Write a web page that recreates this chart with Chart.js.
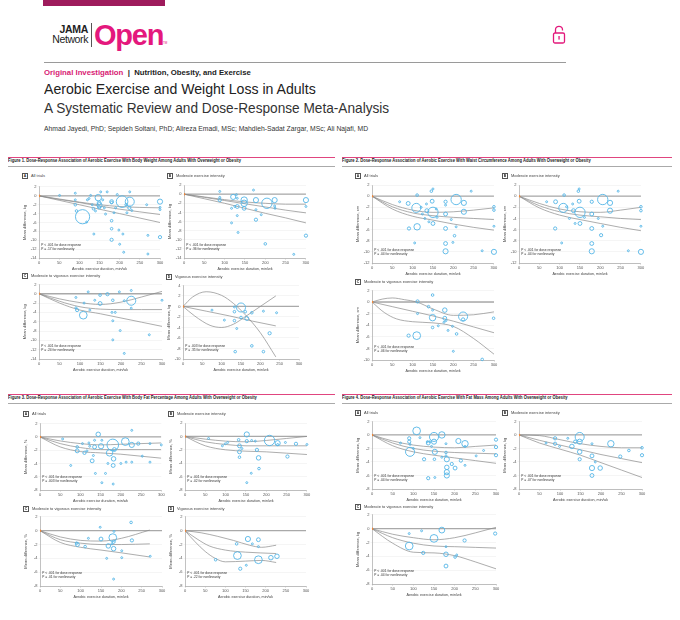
<!DOCTYPE html>
<html>
<head>
<meta charset="utf-8">
<script src="https://cdn.jsdelivr.net/npm/chart.js@4.4.1/dist/chart.umd.min.js"></script>
<style>
html,body{margin:0;padding:0;background:#fff}
#page{position:relative;width:680px;height:620px;overflow:hidden;font-family:"Liberation Sans Narrow","Liberation Sans",Arial,sans-serif;color:#222}
.abs{position:absolute;white-space:nowrap;line-height:1;transform-origin:0 0}
canvas{position:absolute}
.lbl{position:absolute;white-space:nowrap;line-height:1;font-size:4px;color:#444}
.lbl b{display:inline-block;width:4px;height:4px;border:0.5px solid #555;font-size:3.4px;text-align:center;line-height:4px;margin-right:3px;vertical-align:middle;color:#222}
.pv{position:absolute;white-space:nowrap;font-size:3.8px;line-height:3.6px;color:#333;transform:scaleX(0.88);transform-origin:0 0}
</style>
</head>
<body>
<div id="page">
  <div class="abs" style="left:43px;top:0;width:122px;height:6px;background:#9e1b5c"></div>
  <div class="abs" style="left:38px;top:23px;width:50px;text-align:right;font:bold 10.5px 'Liberation Sans',Arial,sans-serif;letter-spacing:-0.3px">JAMA</div>
  <div class="abs" style="left:38px;top:33px;width:50px;text-align:right;font:10.5px 'Liberation Sans',Arial,sans-serif;letter-spacing:-0.4px">Network</div>
  <div class="abs" style="left:91px;top:23px;width:0.8px;height:24px;background:#555"></div>
  <div class="abs" style="left:94px;top:19px;font:bold 29px 'Liberation Sans',Arial,sans-serif;letter-spacing:-1.2px;color:#e4187d">Open</div>
  <div class="abs" style="left:163px;top:41px;font:3px Arial;color:#e4187d">TM</div>
  <svg class="abs" style="left:552px;top:25px" width="14" height="19" viewBox="0 0 14 19">
    <path d="M3.5 8 V4.8 a3.5 3.5 0 0 1 7 0 V5.6" fill="none" stroke="#e2187b" stroke-width="1.3"/>
    <rect x="1.5" y="8" width="11" height="10" rx="1.5" fill="none" stroke="#e2187b" stroke-width="1.3"/>
    <rect x="6.4" y="11" width="1.3" height="3.6" fill="#e2187b"/>
  </svg>
  <div class="abs" style="left:44px;top:62px;width:522px;height:1px;background:#9a9a9a"></div>
  <div class="abs" style="left:44px;top:69px;font-size:8px;font-weight:bold;transform:scaleX(0.97)"><span style="color:#d81b73">Original Investigation</span> &nbsp;|&nbsp; Nutrition, Obesity, and Exercise</div>
  <div class="abs" style="left:44px;top:81px;font-size:15px;transform:scaleX(0.94)">Aerobic Exercise and Weight Loss in Adults</div>
  <div class="abs" style="left:44px;top:100px;font-size:15px;color:#333;transform:scaleX(0.91)">A Systematic Review and Dose-Response Meta-Analysis</div>
  <div class="abs" style="left:44px;top:125px;font-size:7.5px;color:#333;transform:scaleX(0.905)">Ahmad Jayedi, PhD; Sepideh Soltani, PhD; Alireza Emadi, MSc; Mahdieh-Sadat Zargar, MSc; Ali Najafi, MD</div>
</div>
<script>
// ===== 刻度 =====
const xTicks = [0, 50, 100, 150, 200, 250, 300];
const yTicksWeight = [2, 0, -2, -4, -6, -8, -10, -12, -14];
const yTicksWeightVig = [4, 2, 0, -2, -4, -6, -8, -10];
const yTicksWaist = [2, 0, -2, -4, -6, -8, -10, -12];
const yTicksWaistMV = [2, 0, -2, -4, -6, -8, -10];
const yTicksEight = [2, 0, -2, -4, -6, -8];

// ===== Figure 1 体重 (x min/wk, y kg, w 权重) =====
const weightAll = [[51,0.1,3],[90,0.6,3],[90,-0.9,3],[90,-2,4],[93,-3.4,4],[108,-4.7,22],[118,-5.9,3],[120,-0.9,3],[124,-0.6,3],[128,0.1,3],[132,-2,3],[135,-2.9,4],[136,-8.6,3],[140,-3.4,3],[147,-0.4,10],[149,-1.6,6],[150,-2.1,8],[149,-2.6,5],[153,0.9,3],[158,-0.9,3],[162,-2.7,3],[165,-4.1,3],[169,0.9,3],[180,-1.3,6],[180,-1.5,4],[180,-5.6,4],[180,-7.4,4],[180,-9.9,5],[186,-3.8,3],[190,-2.7,3],[194,0.3,3],[198,-7.7,3],[200,-10.9,3],[206,-1.3,18],[208,-8.6,3],[210,-12.7,3],[216,-2,4],[218,-3.8,3],[225,-1.3,14],[224,-2.7,5],[225,0.9,3],[230,-3.3,3],[267,-2,3],[270,-8.9,3],[270,-13.1,3],[300,-1.3,8],[300,-2.6,3],[300,-3.1,3],[300,-9.3,5]];
const weightAllUpper = [[0,0],[50,-0.7],[100,-1.4],[150,-2.0],[200,-2.4],[250,-2.6],[300,-2.7]];
const weightAllMid = [[0,0],[50,-0.8],[100,-1.5],[150,-2.3],[200,-3.0],[250,-3.6],[300,-4.2]];
const weightAllLower = [[0,0],[50,-1.0],[100,-2.0],[150,-3.0],[200,-4.0],[250,-5.0],[300,-6.0]];

const weightMod = [[88,0.6,3],[88,-0.7,3],[88,-1.3,5],[117,-3.1,3],[117,-6.3,3],[121,-0.6,8],[125,-2.7,3],[129,-0.1,3],[131,-0.9,3],[131,-2.7,6],[131,-4.7,3],[133,-8.4,3],[148,-1.3,10],[148,-2,10],[148,-3.1,6],[171,0.9,3],[177,-1.3,8],[177,-3.4,3],[177,-5.6,5],[190,-4.5,3],[204,-2,16],[223,-1.3,8],[223,-2.6,3],[224,-3.1,3],[200,-10.9,4],[270,-13.2,3],[300,-1.3,8],[300,-2.7,3],[300,-9.1,5]];
const weightModUpper = [[0,0],[50,-0.6],[100,-1.2],[150,-1.7],[200,-2.0],[250,-2.2],[300,-2.2]];
const weightModMid = [[0,0],[50,-0.7],[100,-1.4],[150,-2.1],[200,-2.8],[250,-3.5],[300,-4.1]];
const weightModLower = [[0,0],[50,-1.0],[100,-2.0],[150,-3.1],[200,-4.2],[250,-5.2],[300,-6.3]];

const weightMV = [[90,-0.8,3],[90,-3,3],[93,-3.5,5],[108,-4.6,12],[110,-2,3],[120,0.4,3],[124,-3.5,3],[136,-1.4,3],[149,-0.3,4],[149,-2.1,6],[167,-0.1,5],[180,-1.4,4],[178,-4,3],[180,-5.8,3],[180,-9.9,3],[186,-4,3],[196,0.4,3],[198,-7.9,3],[208,-1.5,3],[208,-12.8,3],[225,-1.5,14],[225,0.7,3],[225,-3.1,3],[269,-8.8,3],[300,-1.4,3]];
const weightMVUpper = [[0,0],[50,-1.1],[100,-1.9],[150,-2.3],[200,-1.8],[250,-0.7],[300,0.5]];
const weightMVMid = [[0,0],[50,-1.6],[100,-2.8],[150,-3.3],[200,-3.4],[250,-3.4],[300,-3.4]];
const weightMVLower = [[0,0],[50,-2.0],[100,-3.5],[150,-4.3],[200,-5.2],[250,-6.1],[300,-7.0]];

const weightVig = [[75,-0.7,3],[107,-2.6,3],[133,-0.1,3],[133,-1,4],[133,-2.7,4],[135,-8.6,4],[139,-4.2,3],[150,-0.2,14],[150,-2.1,4],[161,-1,4],[165,-2.3,6],[178,-1.2,4],[178,-7.5,4],[208,-0.9,3],[208,-8.6,4],[224,-5.1,5],[242,-1.2,3]];
const weightVigCurveA = [[0,0],[25,1.8],[60,2.8],[100,2.1],[130,0.6],[160,-1.5],[200,-5.0],[240,-9.6]];
const weightVigMid = [[0,0],[60,-0.9],[120,-1.8],[180,-2.8],[240,-3.7]];
const weightVigCurveB = [[0,0],[30,-1.8],[70,-3.6],[100,-4.0],[130,-3.4],[160,-2.0],[200,0],[240,2.0]];

// ===== Figure 2 腰围 (cm) =====
const waistAll = [[68,-1,3],[89,-1.3,6],[91,-5.8,5],[105,-8.4,3],[111,0.2,4],[109,-2.1,14],[111,-5.5,10],[121,-2,3],[124,-3.2,3],[130,-4,3],[134,-1.4,3],[135,-2.6,6],[140,-4.6,3],[146,0.9,4],[148,-0.9,6],[150,1.3,3],[150,-2.9,16],[150,-4.9,6],[158,-2.3,3],[160,-3.8,3],[181,-1,5],[181,-1.6,3],[181,-3.2,6],[181,-5.8,6],[181,-8.5,6],[181,-9.9,8],[195,-4.2,3],[199,-8.3,3],[203,-7.1,4],[207,-0.6,16],[207,-5.5,3],[226,-1.2,8],[226,-2.8,8],[244,0.9,3],[271,-9.8,3],[300,-1.9,4],[300,-2.5,4],[300,-5.4,3],[300,-10,8]];
const waistAllUpper = [[0,0],[50,-1.5],[100,-2.5],[150,-2.9],[200,-2.8],[250,-2.5],[300,-2.1]];
const waistAllMid = [[0,0],[50,-1.9],[100,-3.0],[150,-3.5],[200,-3.8],[250,-4.0],[300,-4.2]];
const waistAllLower = [[0,0],[50,-2.3],[100,-3.6],[150,-4.3],[200,-5.0],[250,-5.6],[300,-6.1]];

const waistMod = [[68,-1,3],[90,-1,6],[89,-5.8,5],[105,-8.4,3],[111,0.2,4],[109,-2.1,14],[117,-1.9,3],[124,-4,3],[132,-1.4,3],[134,-2.6,6],[138,-4.9,3],[146,0.9,4],[148,-0.9,6],[148,1.3,3],[150,-2.9,16],[150,-4.9,6],[161,-3.8,3],[179,-1,5],[179,-3.2,6],[179,-5.8,6],[179,-8.5,6],[179,-9.9,8],[195,-4,3],[202,-7,5],[206,-5.4,3],[206,-0.6,16],[224,-1.2,8],[224,-2.6,8],[244,0.9,3],[269,-9.8,3],[300,-1.9,4],[300,-2.6,4],[300,-5.4,3],[300,-10,8]];
const waistModUpper = [[0,0],[50,-1.3],[100,-2.3],[150,-2.8],[200,-2.9],[250,-2.5],[300,-2.0]];
const waistModMid = [[0,0],[50,-1.7],[100,-2.8],[150,-3.4],[200,-3.7],[250,-4.0],[300,-4.2]];
const waistModLower = [[0,0],[50,-2.1],[100,-3.4],[150,-4.2],[200,-4.9],[250,-5.6],[300,-6.2]];

const waistMV = [[90,-5.8,5],[110,-5.8,12],[112,0.1,5],[112,-2,3],[139,-0.8,4],[149,-1.4,3],[149,-2.7,10],[149,-4.4,4],[149,1.2,4],[163,-4.1,3],[177,-3.5,3],[179,-1.4,7],[179,-2.8,6],[182,-3.2,3],[187,-4.9,3],[198,-4.2,3],[200,-8.5,3],[208,-5.5,4],[224,-2.5,14],[224,-3.0,5],[271,-9.9,4],[299,-2.8,4]];
const waistMVUpper = [[0,0],[25,0.5],[50,0.7],[80,0.4],[110,0],[150,-1.2],[200,-2.3],[250,-2.2],[300,-1.7]];
const waistMVMid = [[0,0],[50,-0.8],[100,-1.6],[150,-2.4],[200,-3.3],[250,-4.3],[300,-5.3]];
const waistMVLower = [[0,0],[30,-1.8],[60,-2.9],[100,-3.4],[150,-3.6],[200,-4.2],[250,-6.3],[300,-9.0]];

// ===== Figure 3 体脂率 (%) =====
const fatPctAll = [[56,-0.3,3],[76,-4.3,3],[92,-1.5,4],[92,-2.1,6],[105,-1,3],[110,-2.4,5],[116,-2.1,3],[121,-0.9,3],[123,-1.4,3],[129,-3.6,6],[132,-2.8,3],[135,-1.5,6],[135,-0.5,3],[137,-5.5,3],[144,0.4,7],[151,-1.4,8],[153,-0.5,3],[153,-6.9,3],[162,-5.5,3],[168,-4,3],[172,-2.4,10],[180,-1.2,18],[182,-3.3,7],[181,-4.3,6],[181,-7.1,3],[184,-1.9,6],[200,-4,3],[211,-0.7,12],[213,-3.8,3],[227,1,3],[227,-1.2,8],[227,-3.8,3],[243,-1,5],[253,-2.9,3],[272,-1,3],[272,-3.8,3],[300,-1.2,3]];
const fatPctAllUpper = [[0,0],[50,-0.6],[100,-1.0],[150,-1.2],[200,-1.1],[250,-1.0],[300,-0.9]];
const fatPctAllMid = [[0,0],[50,-1.0],[100,-1.6],[150,-1.9],[200,-1.9],[250,-1.9],[300,-1.9]];
const fatPctAllLower = [[0,0],[50,-1.5],[100,-2.2],[150,-2.4],[200,-2.6],[250,-2.9],[300,-3.2]];

const fatPctMod = [[58,-0.3,3],[92,-1.4,3],[99,-1.1,3],[105,-0.9,3],[132,-0.5,4],[134,-1.4,6],[134,-2.3,6],[134,-3.1,4],[140,-1.8,3],[152,0.3,8],[152,-0.7,5],[164,-0.6,3],[173,-0.7,3],[177,-2,5],[181,-3.2,7],[182,-4.8,4],[163,-5.5,3],[152,-6.9,3],[208,-0.6,16],[228,-1,8],[228,-1.2,3],[247,-0.9,3],[252,-3,5],[273,-1.1,5],[300,-1.2,3]];
const fatPctModUpper = [[0,0],[50,-0.4],[100,-0.7],[150,-0.8],[200,-0.6],[250,-0.3],[300,0]];
const fatPctModMid = [[0,0],[50,-0.8],[100,-1.2],[150,-1.4],[200,-1.4],[250,-1.4],[300,-1.4]];
const fatPctModLower = [[0,0],[50,-1.4],[100,-2.0],[150,-2.2],[200,-2.3],[250,-2.5],[300,-2.7]];

const fatPctMV = [[90,-1.8,4],[92,-2,6],[111,-2.3,4],[119,-1.1,3],[148,0.5,3],[150,-1.2,6],[164,-4,3],[168,-2.2,7],[177,-1.9,3],[179,-1,12],[181,-2.6,7],[181,-1.6,5],[181,-7,3],[182,-0.1,3],[201,-2.9,3],[201,-3.9,3],[224,1.2,4],[226,-1.4,5],[271,-3.7,3]];
const fatPctMVUpper = [[0,0],[50,-0.9],[100,-1.4],[150,-1.5],[200,-1.1],[270,0.1]];
const fatPctMVMid = [[0,0],[50,-1.3],[100,-1.8],[150,-2.0],[200,-2.0],[270,-1.9]];
const fatPctMVLower = [[0,0],[50,-1.7],[100,-2.4],[150,-2.8],[200,-3.2],[270,-3.8]];

const fatPctVig = [[76,-4.2,4],[128,-1.9,4],[130,-3.6,12],[137,-5.5,5],[152,-5,3],[156,-1.2,8],[167,-1.9,3],[182,-1.3,6],[182,-2.3,3],[182,-4.2,12],[213,-3.9,7],[228,-3.7,7]];
const fatPctVigUpper = [[0,0],[40,-0.3],[80,-0.8],[120,-1.4],[160,-2.1],[190,-2.4],[226,-2.1]];
const fatPctVigMid = [[0,0],[30,-1.2],[60,-2.2],[100,-2.8],[150,-3.1],[226,-3.3]];
const fatPctVigLower = [[0,0],[25,-1.6],[50,-3.0],[75,-4.0],[100,-4.5],[150,-4.4],[190,-4.3],[226,-4.6]];

// ===== Figure 4 脂肪量 (kg) =====
const fatMassAll = [[69,-1.2,3],[90,-0.5,5],[90,-1,5],[92,-1.4,3],[92,-2.5,14],[100,-2,3],[108,0.6,12],[116,-0.4,3],[126,-3.6,5],[134,-1,3],[136,-1.2,6],[136,-6.4,5],[140,-1,3],[144,-1.7,3],[150,-0.3,14],[150,-1,8],[151,-3.6,4],[152,-2.5,8],[152,-6.3,3],[169,0,10],[169,-3.3,3],[179,-1.3,3],[179,-2.6,4],[179,-3.1,3],[181,-3.6,8],[181,-4.8,7],[181,-5.5,8],[181,-6,8],[193,-4.3,5],[201,-4.9,6],[209,-0.9,8],[215,-3.8,5],[225,-1.3,10],[225,-1.7,3],[225,-4.5,3],[252,-3.1,3],[270,-2.3,3],[300,-0.7,5],[300,-1.8,5],[300,-3,5]];
const fatMassAllUpper = [[0,0],[50,-0.9],[100,-1.5],[150,-1.8],[200,-1.9],[250,-1.7],[300,-1.5]];
const fatMassAllMid = [[0,0],[50,-1.2],[100,-2.0],[150,-2.4],[200,-2.6],[250,-2.7],[300,-2.8]];
const fatMassAllLower = [[0,0],[50,-1.6],[100,-2.5],[150,-3.0],[200,-3.4],[250,-3.8],[300,-4.2]];

const fatMassMod = [[66,-1.2,3],[88,-0.5,5],[88,-1.3,5],[99,-1.7,3],[119,-0.5,3],[129,-1.7,7],[137,-1,5],[148,-0.3,14],[148,-1,8],[148,-2.5,7],[148,-3.6,5],[178,-1.3,3],[178,-3.1,6],[178,-4.9,8],[178,-6,6],[186,-4,3],[198,-4.9,7],[224,-1.3,10],[247,-3.2,5],[268,-2.3,4],[300,-1.9,4],[300,-3,5]];
const fatMassModUpper = [[0,0],[50,-0.1],[100,-0.7],[150,-1.3],[200,-1.7],[250,-1.9],[300,-1.9]];
const fatMassModMid = [[0,0],[50,-0.8],[100,-1.5],[150,-2.2],[200,-2.9],[250,-3.5],[300,-4.1]];
const fatMassModLower = [[0,0],[50,-1.2],[100,-2.1],[150,-3.0],[200,-4.1],[250,-5.2],[300,-6.3]];

const fatMassMV = [[90,-0.7,3],[90,-2.5,12],[120,-0.3,3],[124,-3.5,5],[150,-1.4,12],[169,-0.2,9],[179,-2.6,3],[179,-3.7,7],[179,-5.4,6],[201,-4.1,4],[205,-3.8,3],[224,-1.7,5],[298,-0.7,5]];
const fatMassMVUpper = [[0,0],[50,-0.8],[100,-1.3],[150,-1.6],[200,-1.3],[250,-0.6],[300,0.2]];
const fatMassMVMid = [[0,0],[50,-1.3],[100,-2.1],[150,-2.5],[200,-2.6],[250,-2.7],[300,-2.8]];
const fatMassMVLower = [[0,0],[50,-2.1],[100,-3.4],[150,-3.5],[200,-3.9],[250,-4.8],[300,-5.8]];

// ===== 工具 =====
const NARROW = '"Liberation Sans Narrow", "Liberation Sans", Arial, sans-serif';
const page = document.getElementById("page");
const radius = w => Math.max(0.9, w / 3.1);

function add(html, css, cls){
  const d = document.createElement("div");
  d.className = cls || "abs";
  d.style.cssText = css;
  d.innerHTML = html;
  page.appendChild(d);
  return d;
}

function figHeader(x, y, w, text){
  add("", `left:${x}px;top:${y}px;width:${w}px;height:1px;background:#e0457f`);
  add(text, `left:${x}px;top:${y+2}px;font-size:4.9px;color:#222;font-weight:bold;transform:scaleX(0.84)`);
  add("", `left:${x}px;top:${y+8.5}px;width:${w}px;height:0.6px;background:#aaa`);
}

function panel(o){
  const {l, t, r, b} = o;
  const left = l - 18, top = t - 4;
  const cvs = document.createElement("canvas");
  cvs.width = (r - l) + 18 + 6;
  cvs.height = (b - t) + 4 + 13;
  cvs.style.left = left + "px";
  cvs.style.top = top + "px";
  page.appendChild(cvs);

  add(`<b>${o.letter}</b>${o.name}`, `left:${l-17}px;top:${t-10}px`, "lbl");
  add(`<i>P</i> ${o.p1} for dose response<br><i>P</i> ${o.p2} for nonlinearity`, `left:${l+2}px;top:${b-14}px`, "pv");

  const yt = o.yTicks;
  const lineDs = (pts, color, width) => ({
    type: "line", data: pts.map(([x, y]) => ({x, y})),
    borderColor: color, borderWidth: width, pointRadius: 0,
    tension: 0.4, cubicInterpolationMode: "monotone", fill: false
  });
  const tickFont = {size: 4, family: NARROW};

  new Chart(cvs.getContext("2d"), {
    type: "scatter",
    data: {datasets: [
      Object.assign(lineDs([[0,0],[300,0]], "#a9a9a9", 1.3), {order: 4}),
      ...o.curves.map(c => Object.assign(lineDs(c, "#8a8a8a", 0.7), {order: 3})),
      {data: o.pts.map(([x, y]) => ({x, y})), pointRadius: o.pts.map(p => radius(p[2])),
       borderColor: "#55b6e7", borderWidth: 0.9, backgroundColor: "rgba(255,255,255,0)", clip: 10, order: 2},
      {data: [{x: 0, y: 0}], pointRadius: 1.3, backgroundColor: "#f0883a", borderWidth: 0, order: 1}
    ]},
    options: {
      responsive: false, animation: false,
      layout: {padding: {top: 4, right: 6, left: 0, bottom: 0}},
      plugins: {legend: {display: false}, tooltip: {enabled: false}},
      scales: {
        x: {
          type: "linear", min: 0, max: 300,
          afterBuildTicks: s => { s.ticks = xTicks.map(v => ({value: v})); },
          afterFit: s => { s.height = 13; },
          grid: {drawOnChartArea: false, tickLength: 1.5, color: "#999", lineWidth: 0.5},
          border: {color: "#999", width: 0.6},
          ticks: {font: tickFont, color: "#555", padding: 1, maxRotation: 0, autoSkip: false},
          title: {display: true, text: "Aerobic exercise duration, min/wk", font: {size: 3.7, family: NARROW}, color: "#444", padding: {top: 0, bottom: 0}}
        },
        y: {
          min: yt[yt.length - 1], max: yt[0],
          afterBuildTicks: s => { s.ticks = yt.map(v => ({value: v})); },
          afterFit: s => { s.width = 18; },
          grid: {color: "#ebebeb", lineWidth: 0.5, tickLength: 1.5},
          border: {color: "#999", width: 0.6},
          ticks: {font: tickFont, color: "#555", padding: 1, autoSkip: false},
          title: {display: true, text: "Mean difference, " + o.unit, font: {size: 4, family: NARROW}, color: "#444", padding: {top: 1, bottom: 0}}
        }
      }
    }
  });
}

// ===== Figure 1 =====
figHeader(8, 157, 327, "Figure 1. Dose-Response Association of Aerobic Exercise With Body Weight Among Adults With Overweight or Obesity");
panel({letter:"A", name:"All trials", l:39, t:183, r:162, b:258, yTicks:yTicksWeight, unit:"kg",
  pts:weightAll, curves:[weightAllUpper, weightAllMid, weightAllLower], p1:"&lt; .001", p2:"= .17"});
panel({letter:"B", name:"Moderate exercise intensity", l:184, t:183, r:306, b:258, yTicks:yTicksWeight, unit:"kg",
  pts:weightMod, curves:[weightModUpper, weightModMid, weightModLower], p1:"&lt; .001", p2:"= .36"});
panel({letter:"C", name:"Moderate to vigorous exercise intensity", l:39, t:283, r:162, b:359, yTicks:yTicksWeight, unit:"kg",
  pts:weightMV, curves:[weightMVUpper, weightMVMid, weightMVLower], p1:"&lt; .001", p2:"= .24"});
panel({letter:"D", name:"Vigorous exercise intensity", l:183, t:284, r:299, b:359, yTicks:yTicksWeightVig, unit:"kg",
  pts:weightVig, curves:[weightVigCurveA, weightVigMid, weightVigCurveB], p1:"= .003", p2:"= .35"});

// ===== Figure 2 =====
figHeader(342, 157, 330, "Figure 2. Dose-Response Association of Aerobic Exercise With Waist Circumference Among Adults With Overweight or Obesity");
panel({letter:"A", name:"All trials", l:372, t:183, r:494, b:263, yTicks:yTicksWaist, unit:"cm",
  pts:waistAll, curves:[waistAllUpper, waistAllMid, waistAllLower], p1:"&lt; .001", p2:"= .04"});
panel({letter:"B", name:"Moderate exercise intensity", l:519, t:183, r:641, b:263, yTicks:yTicksWaist, unit:"cm",
  pts:waistMod, curves:[waistModUpper, waistModMid, waistModLower], p1:"&lt; .001", p2:"= .04"});
panel({letter:"C", name:"Moderate to vigorous exercise intensity", l:372, t:289, r:494, b:360, yTicks:yTicksWaistMV, unit:"cm",
  pts:waistMV, curves:[waistMVUpper, waistMVMid, waistMVLower], p1:"&lt; .001", p2:"= .06"});

// ===== Figure 3 =====
figHeader(8, 394, 327, "Figure 3. Dose-Response Association of Aerobic Exercise With Body Fat Percentage Among Adults With Overweight or Obesity");
panel({letter:"A", name:"All trials", l:40, t:421, r:162, b:490, yTicks:yTicksEight, unit:"%",
  pts:fatPctAll, curves:[fatPctAllUpper, fatPctAllMid, fatPctAllLower], p1:"&lt; .001", p2:"= .003"});
panel({letter:"B", name:"Moderate exercise intensity", l:185, t:421, r:307, b:490, yTicks:yTicksEight, unit:"%",
  pts:fatPctMod, curves:[fatPctModUpper, fatPctModMid, fatPctModLower], p1:"= .001", p2:"= .02"});
panel({letter:"C", name:"Moderate to vigorous exercise intensity", l:40, t:516, r:162, b:586, yTicks:yTicksEight, unit:"%",
  pts:fatPctMV, curves:[fatPctMVUpper, fatPctMVMid, fatPctMVLower], p1:"&lt; .001", p2:"= .01"});
panel({letter:"D", name:"Vigorous exercise intensity", l:185, t:516, r:306, b:586, yTicks:yTicksEight, unit:"%",
  pts:fatPctVig, curves:[fatPctVigUpper, fatPctVigMid, fatPctVigLower], p1:"&lt; .001", p2:"= .22"});

// ===== Figure 4 =====
figHeader(342, 394, 330, "Figure 4. Dose-Response Association of Aerobic Exercise With Fat Mass Among Adults With Overweight or Obesity");
panel({letter:"A", name:"All trials", l:372, t:420, r:496, b:489, yTicks:yTicksEight, unit:"kg",
  pts:fatMassAll, curves:[fatMassAllUpper, fatMassAllMid, fatMassAllLower], p1:"&lt; .001", p2:"= .04"});
panel({letter:"B", name:"Moderate exercise intensity", l:519, t:420, r:642, b:489, yTicks:yTicksEight, unit:"kg",
  pts:fatMassMod, curves:[fatMassModUpper, fatMassModMid, fatMassModLower], p1:"&lt; .001", p2:"= .07"});
panel({letter:"C", name:"Moderate to vigorous exercise intensity", l:372, t:514, r:496, b:584, yTicks:yTicksEight, unit:"kg",
  pts:fatMassMV, curves:[fatMassMVUpper, fatMassMVMid, fatMassMVLower], p1:"&lt; .001", p2:"= .04"});
</script>
</body>
</html>
